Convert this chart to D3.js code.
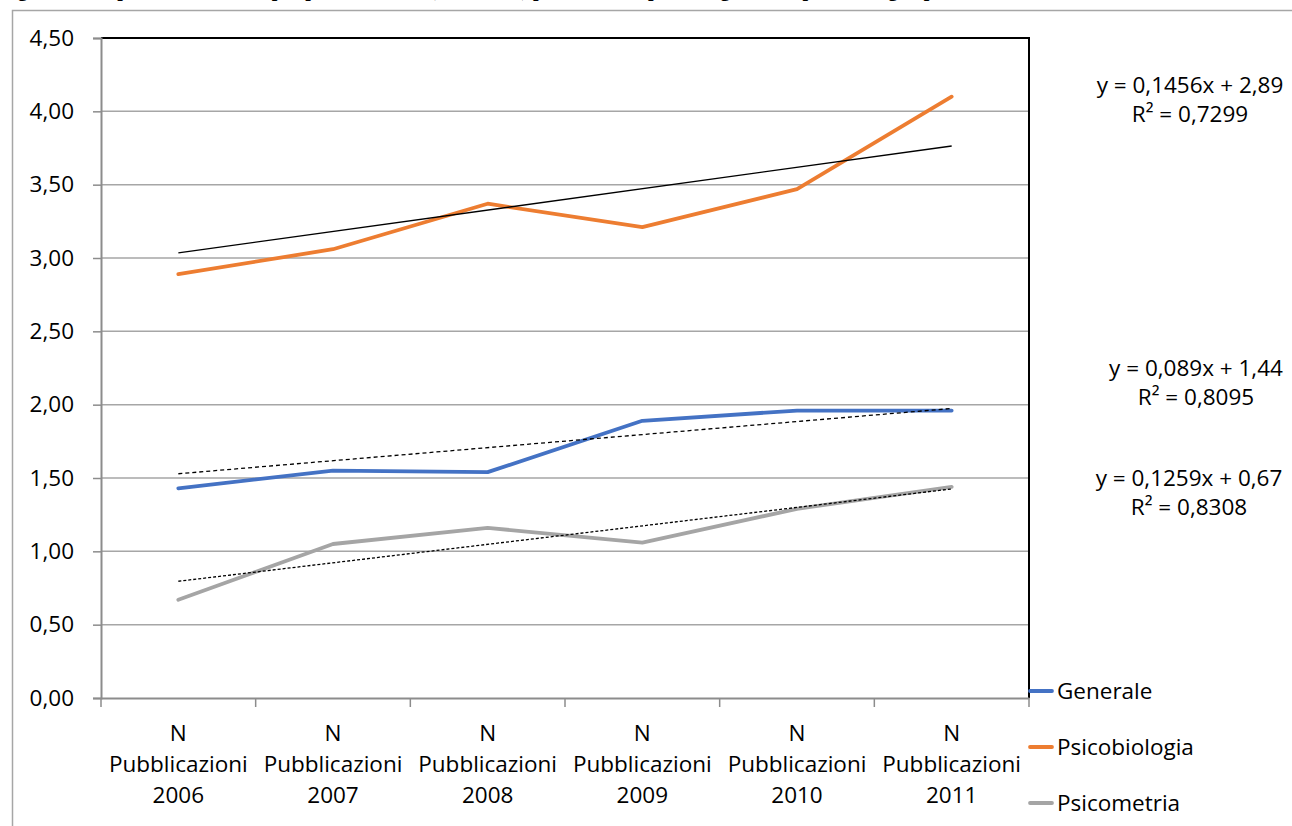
<!DOCTYPE html>
<html><head><meta charset="utf-8">
<script src="https://cdn.jsdelivr.net/npm/d3@7"></script>
<style>
html,body{margin:0;padding:0;background:#fff;}
svg{display:block;font-family:"Open Sans",Lato,sans-serif;}
</style></head>
<body>
<svg id="chart" width="1292" height="826"></svg>
<script>
// ---- data ----
const categories = ["N Pubblicazioni 2006","N Pubblicazioni 2007","N Pubblicazioni 2008","N Pubblicazioni 2009","N Pubblicazioni 2010","N Pubblicazioni 2011"];
const seriesNames = ["Generale","Psicobiologia","Psicometria"];
const generale = [1.43, 1.55, 1.54, 1.89, 1.96, 1.96];
const psicobiologia = [2.89, 3.06, 3.37, 3.21, 3.47, 4.10];
const psicometria = [0.67, 1.05, 1.16, 1.06, 1.29, 1.44];
const trendSlopes = [0.089, 0.1456, 0.1259];
const trendIntercepts = [1.44, 2.89, 0.67];
const trendR2 = [0.8095, 0.7299, 0.8308];
const yTicks = [0, 0.5, 1, 1.5, 2, 2.5, 3, 3.5, 4, 4.5];
const titleText = "Figura 2 – Impact factor medio per pubblicazione (2006-2011) per area disciplinare: generale, psicobiologia, psicometria";

const seriesValues = [generale, psicobiologia, psicometria];
const colors = ["#4472C4", "#ED7D31", "#A5A5A5"];
const trendDash = ["4,3", null, "3,2"];
const FS = 22.5;

const svg = d3.select("#chart");
const L = 101, R = 1029, T = 38, B = 698;
const it = d3.formatLocale({decimal: ",", thousands: ".", grouping: [3], currency: ["€", ""]});
const fmt2 = it.format(".2f");
const comma = v => String(v).replace(".", ",");

// clipped title (only its lower part is visible, as in the reference)
svg.append("text").attr("x", 0).attr("y", -4.5)
  .attr("font-family", "'Liberation Serif','Times New Roman',serif")
  .attr("font-weight", "bold").attr("font-size", 20).attr("fill", "#000")
  .text(titleText);

// outer chart border
svg.append("rect").attr("x", 12.5).attr("y", 10.5).attr("width", 1400).attr("height", 1000)
  .attr("fill", "none").attr("stroke", "#a6a6a6").attr("stroke-width", 1.5);

const x = d3.scaleBand().domain(categories).range([L, R]).paddingInner(0).paddingOuter(0);
const xc = c => x(c) + x.bandwidth() / 2;
const y = d3.scaleLinear().domain([0, 4.5]).range([B, T]);

// gridlines
svg.append("g").selectAll("line").data(yTicks.filter(t => t > 0 && t < 4.5)).join("line")
  .attr("x1", L).attr("x2", R).attr("y1", d => y(d)).attr("y2", d => y(d))
  .attr("stroke", "#a6a6a6").attr("stroke-width", 1.5);

// plot border top & right (black)
svg.append("line").attr("x1", L).attr("x2", R + 1).attr("y1", T).attr("y2", T).attr("stroke", "#000").attr("stroke-width", 2);
svg.append("line").attr("x1", R).attr("x2", R).attr("y1", T).attr("y2", B).attr("stroke", "#000").attr("stroke-width", 2);

// y axis
const yAxis = svg.append("g").attr("transform", `translate(${L},0)`)
  .call(d3.axisLeft(y).tickValues(yTicks).tickFormat(fmt2).tickSize(8).tickPadding(19));
yAxis.select(".domain").attr("stroke", "#8c8c8c").attr("stroke-width", 2);
yAxis.selectAll(".tick line").attr("stroke", "#8c8c8c").attr("stroke-width", 1.5);
yAxis.selectAll(".tick text").attr("font-size", FS).attr("fill", "#000").attr("font-family", "'Open Sans',sans-serif");

// x axis
const xAxis = svg.append("g").attr("transform", `translate(0,${B})`)
  .call(d3.axisBottom(x).tickSize(0).tickFormat(""));
xAxis.select(".domain").attr("stroke", "#8c8c8c").attr("stroke-width", 2);
const bounds = categories.map(c => x(c)).concat([R]);
xAxis.append("g").selectAll("line").data(bounds).join("line")
  .attr("x1", d => d).attr("x2", d => d).attr("y1", 0).attr("y2", 9)
  .attr("stroke", "#8c8c8c").attr("stroke-width", 1.5);
const lbl = svg.append("g").attr("font-size", FS).attr("fill", "#000").attr("text-anchor", "middle");
categories.forEach(c => {
  const parts = c.split(" ");
  const t = lbl.append("text").attr("x", xc(c)).attr("y", 741);
  parts.forEach((p, i) => t.append("tspan").attr("x", xc(c)).attr("dy", i === 0 ? 0 : 31).text(p));
});

// series lines
const line = d3.line().x((d, i) => xc(categories[i])).y(d => y(d));
seriesValues.forEach((vals, i) => {
  svg.append("path").datum(vals).attr("d", line)
    .attr("fill", "none").attr("stroke", colors[i]).attr("stroke-width", 3.8)
    .attr("stroke-linejoin", "round").attr("stroke-linecap", "round");
});

// linear trendlines (from the displayed equations)
const first = categories[0], last = categories[categories.length - 1];
seriesValues.forEach((vals, i) => {
  const n = vals.length;
  svg.append("line")
    .attr("x1", xc(first)).attr("y1", y(trendSlopes[i] * 1 + trendIntercepts[i]))
    .attr("x2", xc(last)).attr("y2", y(trendSlopes[i] * n + trendIntercepts[i]))
    .attr("stroke", "#000").attr("stroke-width", 1.3)
    .attr("stroke-dasharray", trendDash[i]);
});

// trend equation labels
const eqPos = [[1196, 376], [1190, 93], [1189, 486]];
seriesValues.forEach((vals, i) => {
  const g = svg.append("text").attr("text-anchor", "middle").attr("font-size", FS).attr("fill", "#000");
  g.append("tspan").attr("x", eqPos[i][0]).attr("y", eqPos[i][1])
    .text(`y = ${comma(trendSlopes[i])}x + ${fmt2(trendIntercepts[i])}`);
  g.append("tspan").attr("x", eqPos[i][0]).attr("dy", 29)
    .text(`R² = ${comma(trendR2[i])}`);
});

// legend
const legY = [691, 747, 803];
seriesNames.forEach((s, i) => {
  svg.append("line").attr("x1", 1030).attr("x2", 1052).attr("y1", legY[i]).attr("y2", legY[i])
    .attr("stroke", colors[i]).attr("stroke-width", 3.8).attr("stroke-linecap", "round");
  svg.append("text").attr("x", 1057).attr("y", legY[i]).attr("dy", "0.35em")
    .attr("font-size", FS).attr("fill", "#000").text(s);
});
</script>
</body></html>
